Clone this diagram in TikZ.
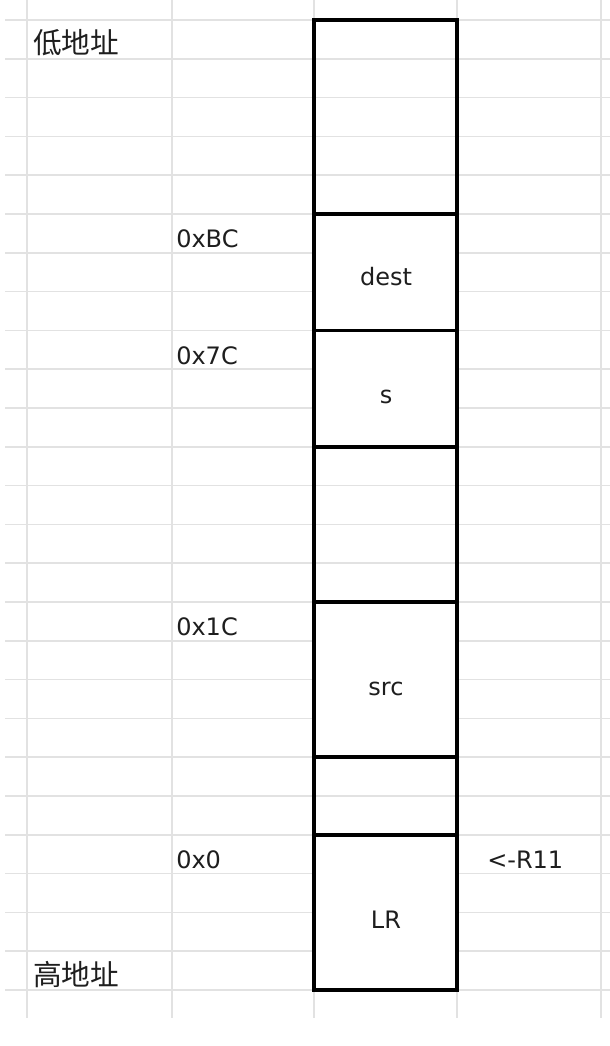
\documentclass[tikz,border=0pt]{standalone}
\usepackage{fontspec}
\setmainfont{DejaVu Sans}
\newfontfamily\cjk{Noto Sans CJK SC}
\definecolor{gridgray}{HTML}{E2E2E2}
\definecolor{textcol}{HTML}{1E1E1E}
\begin{document}
\begin{tikzpicture}[x=0.75pt,y=-0.75pt,
  gridline/.style={draw=gridgray, line width=1.1pt},
  cellbox/.style={draw=black, line width=2.6pt},
  latin/.style={inner sep=0pt, text=textcol, font=\fontsize{18}{18}\selectfont},
  cjklabel/.style={inner sep=0pt, anchor=base west, text=textcol, font=\cjk\fontsize{21.5}{21.5}\selectfont},
  addr/.style={latin, anchor=base west},
  celltext/.style={latin, anchor=base}]
\useasboundingbox (0,0) rectangle (610,1046);
\fill[white] (0,0) rectangle (610,1046);
% grid
\foreach \x in {27,172,314,457,601}
  \draw[gridline] (\x,0) -- (\x,1018);
\foreach \i in {0,...,25}
  \draw[gridline] (5,20+38.8*\i) -- (610,20+38.8*\i);
% merged cells hide the grid inside
\fill[white] (314,214) rectangle (457,446.8);
\fill[white] (314,602) rectangle (457,757.2);
\fill[white] (314,834.8) rectangle (457,990);
% memory column
\draw[cellbox] (314,20) rectangle (457,990);
\foreach \y in {214,330.4,446.8,602,757.2,834.8}
  \draw[cellbox] (314,\y) -- (457,\y);
% labels
\node[cjklabel] (low) at (33,53) {低地址};
\node[cjklabel] (high) at (33,985) {高地址};
\node[addr] (aBC) at (176,247) {0xBC};
\node[addr] (a7C) at (176,364) {0x7C};
\node[addr] (a1C) at (176,635) {0x1C};
\node[addr] (a0) at (176,868) {0x0};
\node[addr] (r11) at (487,868) {<-R11};
\node[celltext] (dest) at (386,285) {dest};
\node[celltext] (s) at (386,403) {s};
\node[celltext] (src) at (386,695) {src};
\node[celltext] (lr) at (386,928) {LR};
\end{tikzpicture}
\end{document}
